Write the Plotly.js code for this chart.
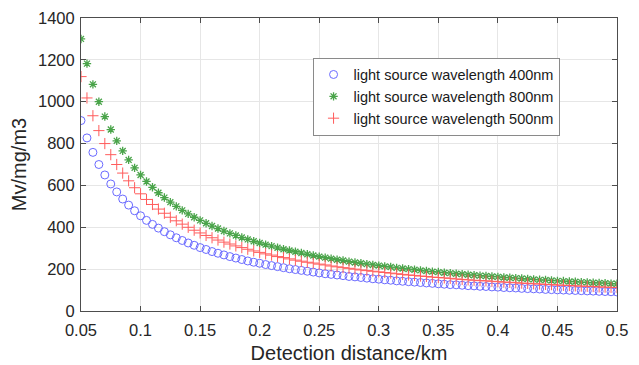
<!DOCTYPE html>
<html>
<head>
<meta charset="utf-8">
<script src="https://cdn.plot.ly/plotly-3.0.1.min.js"></script>
<style>html,body{margin:0;padding:0;background:#fff;}#chart{width:639px;height:365px;}</style>
</head>
<body>
<div id="chart"></div>
<script>
const distanceKm = [0.050,0.055,0.060,0.065,0.070,0.075,0.080,0.085,0.090,0.095,
0.100,0.105,0.110,0.115,0.120,0.125,0.130,0.135,0.140,0.145,
0.150,0.155,0.160,0.165,0.170,0.175,0.180,0.185,0.190,0.195,
0.200,0.205,0.210,0.215,0.220,0.225,0.230,0.235,0.240,0.245,
0.250,0.255,0.260,0.265,0.270,0.275,0.280,0.285,0.290,0.295,
0.300,0.305,0.310,0.315,0.320,0.325,0.330,0.335,0.340,0.345,
0.350,0.355,0.360,0.365,0.370,0.375,0.380,0.385,0.390,0.395,
0.400,0.405,0.410,0.415,0.420,0.425,0.430,0.435,0.440,0.445,
0.450,0.455,0.460,0.465,0.470,0.475,0.480,0.485,0.490,0.495,0.500];

const wl400 = [910,827,758,700,650,607,569,535,506,479,
455,433,414,396,379,364,350,337,325,314,
303,294,284,276,268,260,253,246,239,233,
228,222,217,212,207,202,198,194,190,186,
182,178,175,172,169,165,163,160,157,154,
152,149,147,144,142,140,138,136,134,132,
130,128,126,125,123,121,120,118,117,115,
114,112,111,110,108,107,106,105,103,102,
101,100,99,98,97,96,95,94,93,92,91];

const wl800 = [1300,1182,1083,1000,929,867,813,765,722,684,
650,619,591,565,542,520,500,481,464,448,
433,419,406,394,382,371,361,351,342,333,
325,317,310,302,295,289,283,277,271,265,
260,255,250,245,241,236,232,228,224,220,
217,213,210,206,203,200,197,194,191,188,
186,183,181,178,176,173,171,169,167,165,
163,160,159,157,155,153,151,149,148,146,
144,143,141,140,138,137,135,134,133,131,130];

const wl500 = [1120,1018,933,862,800,747,700,659,622,589,
560,533,509,487,467,448,431,415,400,386,
373,361,350,339,329,320,311,303,295,287,
280,273,267,260,255,249,243,238,233,229,
224,220,215,211,207,204,200,196,193,190,
187,184,181,178,175,172,170,167,165,162,
160,158,156,153,151,149,147,145,144,142,
140,138,137,135,133,132,130,129,127,126,
124,123,122,120,119,118,117,115,114,113,112];

const xTicks = [0.05,0.1,0.15,0.2,0.25,0.3,0.35,0.4,0.45,0.5];
const xTickText = ['0.05','0.1','0.15','0.2','0.25','0.3','0.35','0.4','0.45','0.5'];
const yTicks = [0,200,400,600,800,1000,1200,1400];

const FONT = 'Liberation Sans, Arial, sans-serif';

const traces = [
  {x: distanceKm, y: wl400, type:'scatter', mode:'markers', name:'light source wavelength 400nm',
   marker:{symbol:'circle-open', size:8, color:'#6a6aff', line:{width:1, color:'#6a6aff'}}},
  {x: distanceKm, y: wl800, type:'scatter', mode:'markers', name:'light source wavelength 800nm',
   marker:{symbol:'asterisk-open', size:7, color:'#4aa44a', line:{width:1.3, color:'#4aa44a'}}},
  {x: distanceKm, y: wl500, type:'scatter', mode:'markers', name:'light source wavelength 500nm',
   marker:{symbol:'cross-thin-open', size:8, color:'#ff5c5c', line:{width:1, color:'#ff5c5c'}}}
];

const axisCommon = {
  showline:true, linecolor:'#4d4d4d', linewidth:1, mirror:'ticks',
  ticks:'inside', ticklen:5, tickcolor:'#4d4d4d',
  showgrid:true, gridcolor:'#e6e6e6', gridwidth:1, zeroline:false,
  tickfont:{family:FONT, size:16.5, color:'#262626'}
};

const layout = {
  width:639, height:365,
  margin:{l:81, r:22, t:18, b:54},
  paper_bgcolor:'#ffffff', plot_bgcolor:'#ffffff',
  showlegend:true,
  xaxis: Object.assign({}, axisCommon, {
    range:[0.05,0.5], tickvals:xTicks, ticktext:xTickText, ticklabelstandoff:4,
    title:{text:'Detection distance/km', standoff:8, font:{family:FONT, size:20, color:'#262626'}}
  }),
  yaxis: Object.assign({}, axisCommon, {
    range:[0,1400], tickvals:yTicks, ticklabelstandoff:2,
    title:{text:'Mv/mg/m3', standoff:5, font:{family:FONT, size:20, color:'#262626'}}
  }),
  legend:{x:0.432, y:0.865, xanchor:'left', yanchor:'top',
    bgcolor:'#ffffff', bordercolor:'#8a8a8a', borderwidth:1,
    font:{family:FONT, size:14.5, color:'#1a1a1a'},
    tracegroupgap:0, itemwidth:30}
};

Plotly.newPlot('chart', traces, layout, {displayModeBar:false, staticPlot:true});
</script>
</body>
</html>
